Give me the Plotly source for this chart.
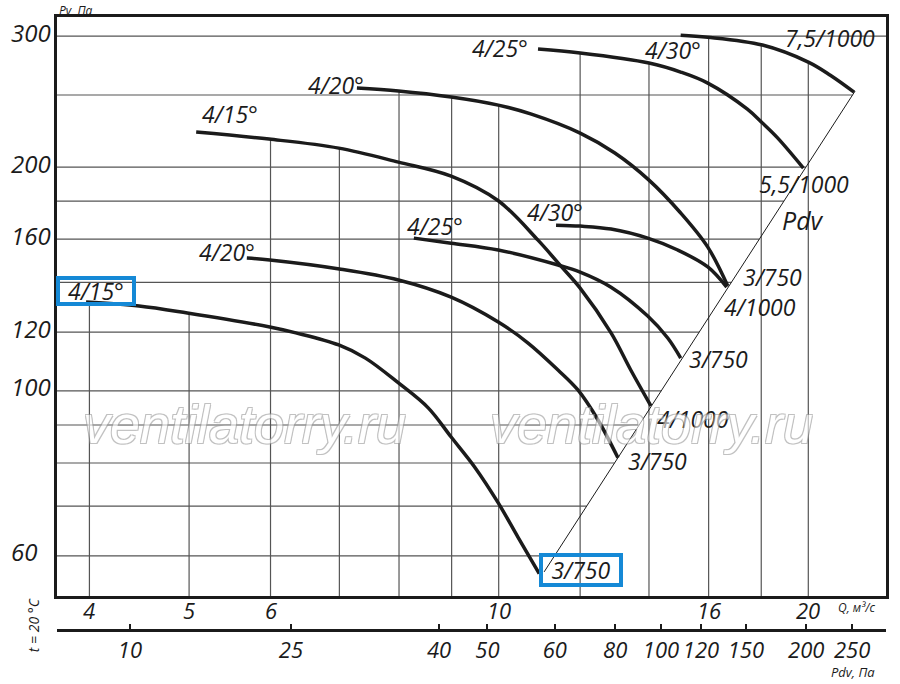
import numpy as np
import plotly.graph_objects as go

# ---- данные: Q, м3/с  /  Pv, Па ----
# нижнее семейство кривых
q_15_low = [3.97, 4.47, 4.98, 5.99, 6.35, 6.99, 7.42, 7.99, 8.54, 8.99, 9.49, 9.99, 10.44, 10.95]
p_15_low = [131.7, 130.1, 127.3, 121.9, 119.7, 115.3, 110.7, 102.5, 94.9, 86.7, 78.8, 70.7, 63.6, 56.8]

q_20_low = [5.69, 5.99, 7.00, 7.99, 8.99, 9.99, 10.68, 11.42, 11.94, 12.49, 13.06]
p_20_low = [150.9, 150.0, 145.9, 141.0, 133.7, 123.8, 116.0, 106.7, 100.3, 91.4, 81.3]

q_25_low = [8.27, 8.99, 9.99, 11.42, 12.0, 12.86, 13.96, 14.60, 15.03]
p_25_low = [160.5, 158.0, 154.7, 147.7, 144.5, 137.9, 126.1, 117.8, 110.7]

q_30_low = [11.37, 12.0, 12.86, 13.96, 14.93, 15.97, 16.66]
p_30_low = [167.1, 166.6, 165.1, 160.5, 154.7, 146.8, 137.9]

# верхнее семейство кривых
q_15_up = [5.08, 5.98, 6.99, 7.99, 8.99, 9.99, 10.92, 11.45, 12.0, 12.86, 13.44, 14.06]
p_15_up = [222.9, 218.1, 212.1, 203.1, 194.5, 180.2, 159.5, 148.1, 137.5, 119.7, 106.7, 95.5]

q_20_up = [7.28, 7.99, 8.99, 9.99, 10.76, 12.0, 12.97, 14.0, 15.03, 15.97, 16.70]
p_20_up = [255.4, 253.1, 248.4, 242.3, 235.6, 222.2, 208.9, 192.1, 173.5, 156.1, 138.4]

q_25_up = [10.92, 12.0, 14.0, 15.03, 15.97, 17.45, 18.05, 18.66, 19.78]
p_25_up = [288.2, 284.7, 276.0, 268.4, 259.4, 239.3, 229.2, 219.1, 199.4]

q_30_up = [15.03, 15.97, 18.05, 20.0, 21.01, 22.16]
p_30_up = [300.8, 299.0, 291.8, 276.8, 265.8, 252.2]

# линия Pdv (концы)
pdv_line_q = [11.07, 22.21]
pdv_line_p = [57.1, 253.1]

# оси
q_range = [3.72, 23.8]
p_range = [53.0, 318.3]
q_ticks = [4, 5, 6, 10, 16, 20]
q_grid = [4, 5, 6, 7, 8, 9, 10, 12, 14, 16, 18, 20]
p_ticks = [60, 100, 120, 160, 200, 300]
p_grid = [60, 70, 80, 90, 100, 120, 140, 160, 180, 200, 250, 300]
pdv_ticks = [10, 25, 40, 50, 60, 80, 100, 120, 150, 200, 250]
pdv_at_q = [4.38, 6.28, 8.75, 9.75, 11.34, 12.98, 14.38, 15.73, 17.39, 19.91, 22.06]

curves = [
    (q_15_low, p_15_low), (q_20_low, p_20_low), (q_25_low, p_25_low), (q_30_low, p_30_low),
    (q_15_up, p_15_up), (q_20_up, p_20_up), (q_25_up, p_25_up), (q_30_up, p_30_up),
]

INK = "#1b1b1b"
BLUE = "#1589d6"
FONT = "Open Sans"


def ifont(size):
    return dict(family=FONT, size=size, color=INK, style="italic")


def top_of(q):
    # верхняя огибающая кривых — до неё доходят вертикальные линии сетки
    best = None
    for qs, ps in curves:
        if qs[0] <= q <= qs[-1]:
            v = 10 ** np.interp(np.log10(q), np.log10(qs), np.log10(ps))
            best = v if best is None else max(best, v)
    return best if best is not None else p_range[1]


def pdv_q_at(p):
    # горизонтальные линии обрываются на линии Pdv
    if p >= pdv_line_p[1]:
        return q_range[1]
    return 10 ** np.interp(np.log10(p), np.log10(pdv_line_p), np.log10(pdv_line_q))


gx, gy = [], []
for q in q_grid:
    gx += [q, q, None]
    gy += [p_range[0], top_of(q), None]
for p in p_grid:
    gx += [q_range[0], pdv_q_at(p), None]
    gy += [p, p, None]

fig = go.Figure()
fig.add_trace(go.Scatter(x=gx, y=gy, mode="lines", line=dict(color="#555555", width=1.2),
                         hoverinfo="skip"))
fig.add_trace(go.Scatter(x=pdv_line_q, y=pdv_line_p, xaxis="x2", mode="lines",
                         line=dict(color=INK, width=1), hoverinfo="skip"))
for qs, ps in curves:
    fig.add_trace(go.Scatter(x=qs, y=ps, mode="lines",
                             line=dict(color=INK, width=3.5, shape="spline", smoothing=1.0)))

ann = []
# подписи у начала кривых (текст, кривая, сдвиг)
start_labels = [
    ("4/15°", q_15_low, p_15_low, 11, 11),
    ("4/20°", q_20_low, p_20_low, -20, 6),
    ("4/25°", q_25_low, p_25_low, 21, 12),
    ("4/30°", q_30_low, p_30_low, -1, 13),
    ("4/15°", q_15_up, p_15_up, 34, 18),
    ("4/20°", q_20_up, p_20_up, -21, 3),
    ("4/25°", q_25_up, p_25_up, -38, 1),
    ("4/30°", q_30_up, p_30_up, -8, -15),
]
for i, (txt, qs, ps, dx, dy) in enumerate(start_labels):
    a = dict(text=txt, x=np.log10(qs[0]), y=np.log10(ps[0]), xref="x", yref="y",
             showarrow=False, xshift=dx, yshift=dy, font=ifont(23))
    if i == 0:
        a.update(bordercolor=BLUE, borderwidth=4, borderpad=0, width=72, height=22)
        a["xshift"] = 10
    ann.append(a)

end_labels = [
    ("3/750", q_15_low, p_15_low, 42, 4),
    ("3/750", q_20_low, p_20_low, 40, -3),
    ("3/750", q_25_low, p_25_low, 38, -1),
    ("3/750", q_30_low, p_30_low, 46, 10),
    ("4/1000", q_15_up, p_15_up, 42, -13),
    ("4/1000", q_20_up, p_20_up, 32, -21),
    ("5,5/1000", q_25_up, p_25_up, 1, -16),
    ("7,5/1000", q_30_up, p_30_up, -24, 54),
    ("Pdv", q_25_up, p_25_up, 0, -52),
]
for i, (txt, qs, ps, dx, dy) in enumerate(end_labels):
    a = dict(text=txt, x=np.log10(qs[-1]), y=np.log10(ps[-1]), xref="x", yref="y",
             showarrow=False, xshift=dx, yshift=dy, font=ifont(25 if txt == "Pdv" else 23))
    if i == 0:
        a.update(bordercolor=BLUE, borderwidth=4, borderpad=0, width=76, height=26)
    ann.append(a)

# подписи оси Pv
for v in p_ticks:
    ann.append(dict(text=str(v), x=-0.0577, y=np.log10(v), xref="paper", yref="y",
                    xanchor="left", showarrow=False, yshift=4, font=ifont(24)))

# подписи оси Q
for v in q_ticks:
    ann.append(dict(text=str(v), x=np.log10(v), y=0.0326, xref="x", yref="paper",
                    xanchor="center", yanchor="middle", showarrow=False, font=ifont(22)))

# водяные знаки
for wx in [0.226, 0.7175]:
    ann.append(dict(text="ventilatorry.ru", x=wx, y=0.336, xref="paper", yref="paper",
                    xanchor="center", yanchor="middle", showarrow=False, opacity=0.6,
                    font=dict(family="Liberation Sans", size=54, style="italic", color="white",
                              shadow="1px 1px 0 #999, -1px -1px 0 #999, 1px -1px 0 #999, -1px 1px 0 #999")))

ann += [
    dict(text="Pv, Па", x=0, y=1.011, xref="paper", yref="paper", xanchor="left",
         yanchor="middle", showarrow=False, font=ifont(12)),
    dict(text="Q, м³/с", x=0.989, y=0.0375, xref="paper", yref="paper", xanchor="right",
         yanchor="middle", showarrow=False, font=ifont(12)),
    dict(text="Pdv, Па", x=0.989, y=-0.0685, xref="paper", yref="paper", xanchor="right",
         yanchor="middle", showarrow=False, font=ifont(13)),
    dict(text="t = 20 °C", x=-0.0288, y=0.008, xref="paper", yref="paper", textangle=-90,
         xanchor="center", yanchor="middle", showarrow=False, font=ifont(14)),
]

lr_q = [np.log10(q_range[0]), np.log10(q_range[1])]
lr_p = [np.log10(p_range[0]), np.log10(p_range[1])]

fig.update_layout(
    width=900, height=684,
    margin=dict(l=57, r=11, t=17, b=54),
    paper_bgcolor="white", plot_bgcolor="white",
    showlegend=False,
    annotations=ann,
    xaxis=dict(type="log", range=lr_q, showticklabels=False,
               ticks="", showgrid=False, zeroline=False, showline=True, mirror=True,
               linecolor=INK, linewidth=2.5, anchor="y"),
    xaxis2=dict(type="log", range=lr_q, overlaying="x", anchor="free", position=0, side="bottom",
                tickvals=pdv_at_q, ticktext=[str(v) for v in pdv_ticks], ticks="inside",
                ticklen=5, tickwidth=1.5, tickcolor=INK, showgrid=False, zeroline=False,
                showline=True, linecolor=INK, linewidth=2.5, tickfont=ifont(22)),
    yaxis=dict(type="log", range=lr_p, domain=[34 / 613, 1], showgrid=False, zeroline=False,
               showline=True, mirror=True, linecolor=INK, linewidth=2.5,
               showticklabels=False, ticks=""),
)

fig.write_html("out.html", config={"displayModeBar": False},
               post_script="document.body.style.margin='0';")
